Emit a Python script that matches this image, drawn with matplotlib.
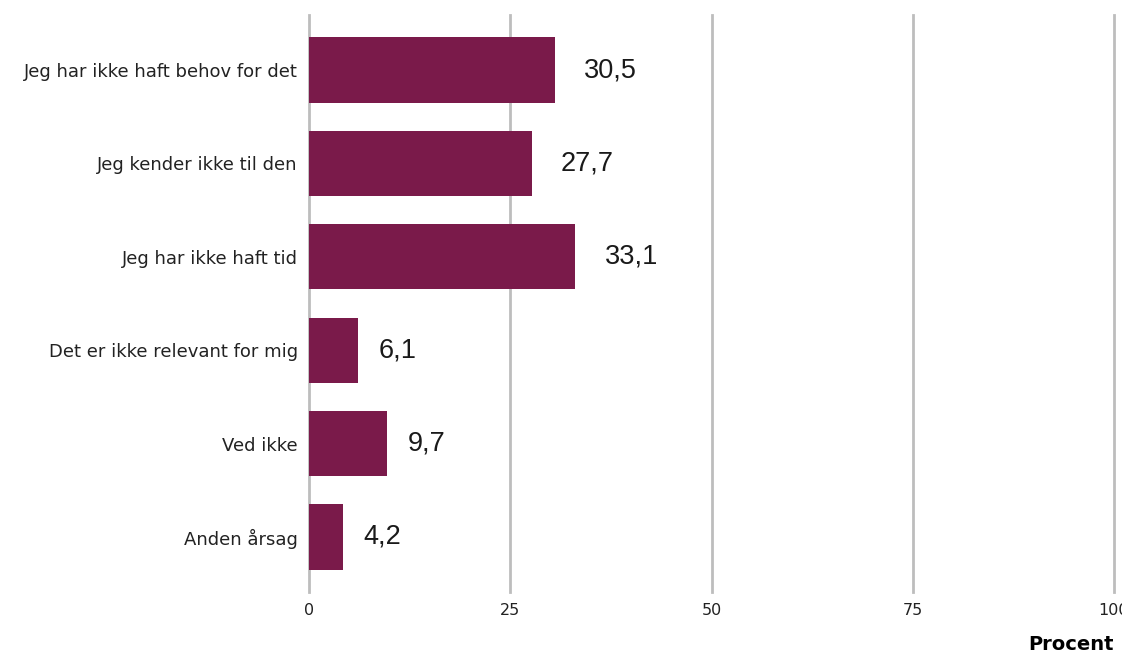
import matplotlib
matplotlib.use("Agg")
import matplotlib.pyplot as plt
from matplotlib.transforms import Bbox, TransformedBbox

categories = ["Jeg har ikke haft behov for det", "Jeg kender ikke til den",
              "Jeg har ikke haft tid", "Det er ikke relevant for mig",
              "Ved ikke", "Anden årsag"]
values = [30.5, 27.7, 33.1, 6.1, 9.7, 4.2]
xticks = [0, 25, 50, 75, 100]

fig = plt.figure(figsize=(11.3, 6.56), dpi=100)
ax = fig.add_axes([309/1130, 1-592/656, (1114-309)/1130, (592-15)/656])
ypos = list(range(len(categories)))
ax.barh(ypos, values, height=0.7, color="#7A1A4A", zorder=3)
ax.set_ylim(len(categories)-1+0.59, -0.59)
ax.set_xlim(0, 100)
ax.set_xticks(xticks)
ax.set_xticklabels([str(t) for t in xticks], fontsize=11.5, color="#222222",
                   family="DejaVu Sans")
ax.set_yticks(ypos)
ax.set_yticklabels(categories, fontsize=13, color="#222222", family="DejaVu Sans")
ax.tick_params(axis="both", length=0)
ax.tick_params(axis="x", pad=8)
ax.tick_params(axis="y", pad=8)
for s in ax.spines.values():
    s.set_visible(False)
ax.grid(axis="x", color="#BDBDBD", linewidth=2, zorder=0)
for gl in ax.get_xgridlines():
    gl.set_clip_on(False)
clipbox = TransformedBbox(Bbox([[0, 0], [1122/1130, 1]]), fig.transFigure)
for lab in ax.get_xticklabels():
    lab.set_clip_on(True)
    lab.set_clip_box(clipbox)
for y, v in zip(ypos, values):
    lab = f"{v:.1f}".replace(".", ",")
    off = 29 if v >= 10 else 21
    ax.annotate(lab, (v, y), xytext=(off*0.72, 0), textcoords="offset points",
                ha="left", va="center", fontsize=19.5, family="Liberation Sans",
                color="#1a1a1a")
fig.text(1114/1130, 1-645/656, "Procent", ha="right", va="center",
         fontsize=14, fontweight="bold", family="DejaVu Sans")
fig.savefig("out.png", dpi=100)
